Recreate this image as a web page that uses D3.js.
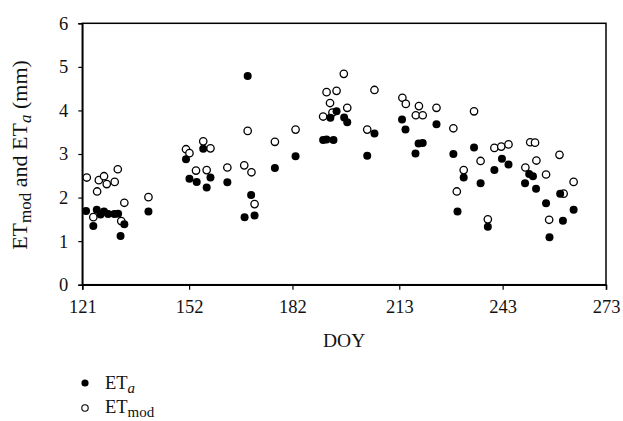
<!DOCTYPE html>
<html>
<head>
<meta charset="utf-8">
<script src="https://cdn.jsdelivr.net/npm/d3@7"></script>
<style>
  html, body { margin: 0; padding: 0; background: #fff; }
  svg { display: block; font-family: "Liberation Serif", "DejaVu Serif", serif; }
</style>
</head>
<body>
<svg id="chart" width="623" height="421"></svg>
<script>
// Measured evapotranspiration (ETa) by day of year
const doyA = [122.1, 124.2, 125.2, 126.3, 127.3, 128.5, 130.3, 131.4, 132.1, 133.2,
  140.2, 151.1, 152.1, 154.2, 156.1, 157.1, 158.2, 163.1, 168.1, 169.0,
  170.0, 171.0, 176.9, 182.9, 190.9, 191.9, 193.0, 193.9, 194.8, 197.0,
  197.9, 203.7, 205.8, 213.8, 214.8, 217.7, 218.6, 219.8, 223.8, 228.7,
  229.9, 231.7, 234.7, 236.6, 238.7, 240.6, 242.8, 244.7, 249.5, 250.7,
  251.8, 252.7, 255.6, 256.6, 259.7, 260.5, 263.6];
const etA = [1.69, 1.35, 1.72, 1.61, 1.68, 1.62, 1.62, 1.63, 1.12, 1.39,
  1.68, 2.88, 2.43, 2.36, 3.12, 2.23, 2.46, 2.35, 1.55, 4.79,
  2.06, 1.59, 2.68, 2.95, 3.32, 3.33, 3.83, 3.32, 3.98, 3.84,
  3.73, 2.96, 3.47, 3.79, 3.56, 3.01, 3.24, 3.25, 3.68, 3.00,
  1.68, 2.46, 3.15, 2.33, 1.33, 2.63, 2.89, 2.76, 2.33, 2.54,
  2.49, 2.20, 1.87, 1.09, 2.09, 1.47, 1.72];

// Modelled evapotranspiration (ETmod) by day of year
const doyMod = [122.3, 124.2, 125.3, 125.8, 127.3, 128.1, 130.4, 131.3, 132.3, 133.2,
  140.2, 151.1, 152.1, 154.0, 156.1, 157.1, 158.2, 163.1, 168.0, 169.0,
  170.1, 171.0, 176.9, 182.9, 190.9, 191.9, 192.9, 193.6, 194.8, 196.9,
  197.9, 203.7, 205.8, 213.9, 214.9, 217.8, 218.7, 219.8, 223.8, 228.7,
  229.7, 231.7, 234.7, 236.6, 238.7, 240.6, 242.6, 244.7, 249.6, 251.0,
  252.4, 252.8, 255.6, 256.5, 259.5, 260.7, 263.6];
const etMod = [2.46, 1.55, 2.14, 2.40, 2.49, 2.31, 2.36, 2.65, 1.46, 1.88,
  2.01, 3.11, 3.02, 2.62, 3.29, 2.63, 3.13, 2.69, 2.74, 3.53,
  2.58, 1.85, 3.28, 3.56, 3.86, 4.42, 4.17, 3.95, 4.45, 4.84,
  4.06, 3.56, 4.47, 4.29, 4.15, 3.89, 4.10, 3.89, 4.06, 3.59,
  2.14, 2.63, 3.98, 2.84, 1.50, 3.14, 3.17, 3.22, 2.69, 3.27,
  3.26, 2.85, 2.53, 1.49, 2.98, 2.09, 2.36];

// Axis ticks
const xTicks = [121, 152, 182, 213, 243, 273];
const yTicks = [0, 1, 2, 3, 4, 5, 6];

const svg = d3.select("#chart");
const plotL = 82.3, plotR = 606, plotT = 23.3, plotB = 284.7;

const x = d3.scaleLinear().domain([121, 273]).range([plotL, plotR]);
const y = d3.scaleLinear().domain([0, 6]).range([plotB, plotT]);

// Plot frame
svg.append("rect")
  .attr("x", plotL).attr("y", plotT)
  .attr("width", plotR - plotL).attr("height", plotB - plotT)
  .attr("fill", "none").attr("stroke", "#000").attr("stroke-width", 1.5);

const xAxis = svg.append("g")
  .attr("transform", `translate(0,${plotB})`)
  .call(d3.axisBottom(x).tickValues(xTicks).tickSize(5).tickPadding(10).tickFormat(d3.format("d")));
const yAxis = svg.append("g")
  .attr("transform", `translate(${plotL},0)`)
  .call(d3.axisLeft(y).tickValues(yTicks).tickSize(4).tickPadding(10).tickFormat(d3.format("d")));

[xAxis, yAxis].forEach(g => {
  g.select(".domain").attr("stroke", "#000").attr("stroke-width", 1.5);
  g.selectAll(".tick line").attr("stroke", "#000").attr("stroke-width", 1.2);
  g.selectAll(".tick text")
    .attr("fill", "#111")
    .style("font-family", "'Liberation Serif', serif")
    .style("font-size", "18.5px");
});

// Modelled values: open circles
svg.append("g").selectAll("circle")
  .data(doyMod.map((d, i) => [d, etMod[i]]))
  .join("circle")
  .attr("cx", d => x(d[0])).attr("cy", d => y(d[1]))
  .attr("r", 3.7)
  .attr("fill", "#fff").attr("stroke", "#000").attr("stroke-width", 1.3);

// Measured values: filled circles
svg.append("g").selectAll("circle")
  .data(doyA.map((d, i) => [d, etA[i]]))
  .join("circle")
  .attr("cx", d => x(d[0])).attr("cy", d => y(d[1]))
  .attr("r", 4)
  .attr("fill", "#000");

// X axis title
svg.append("text")
  .attr("x", (plotL + plotR) / 2).attr("y", 347)
  .attr("text-anchor", "middle")
  .style("font-size", "19.5px").attr("fill", "#111")
  .text("DOY");

// Y axis title with subscripts
const yt = svg.append("text")
  .attr("transform", `translate(27,${(plotT + plotB) / 2 + 1}) rotate(-90)`)
  .attr("text-anchor", "middle")
  .style("font-size", "22px").attr("fill", "#111");
yt.append("tspan").text("ET");
yt.append("tspan").attr("baseline-shift", "-25%").style("font-size", "17px").text("mod");
yt.append("tspan").text(" and ET");
yt.append("tspan").attr("baseline-shift", "-25%").style("font-size", "17px").style("font-style", "italic").text("a");
yt.append("tspan").text(" (mm)");

// Legend
const legend = svg.append("g");
legend.append("circle").attr("cx", 85).attr("cy", 383).attr("r", 3.6).attr("fill", "#000");
const l1 = legend.append("text").attr("x", 105).attr("y", 389).style("font-size", "18.5px").attr("fill", "#111");
l1.append("tspan").text("ET");
l1.append("tspan").attr("baseline-shift", "-25%").style("font-size", "15px").style("font-style", "italic").text("a");

legend.append("circle").attr("cx", 85).attr("cy", 408).attr("r", 3.2)
  .attr("fill", "#fff").attr("stroke", "#000").attr("stroke-width", 1.1);
const l2 = legend.append("text").attr("x", 105).attr("y", 413).style("font-size", "18.5px").attr("fill", "#111");
l2.append("tspan").text("ET");
l2.append("tspan").attr("baseline-shift", "-25%").style("font-size", "15px").text("mod");
</script>
</body>
</html>
